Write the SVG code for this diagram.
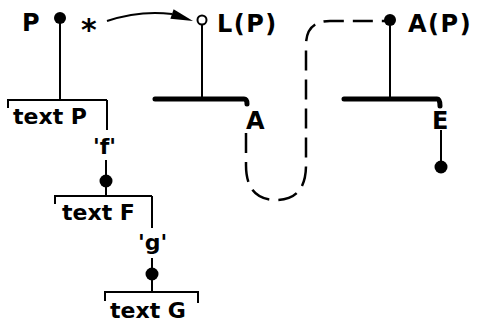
<svg xmlns="http://www.w3.org/2000/svg" width="478" height="325" viewBox="0 0 478 325">
<style>
.t{font-family:"DejaVu Sans",sans-serif;font-weight:bold;fill:#000}
.lbl{font-size:24px;letter-spacing:1.5px}
.txt{font-size:22px}
.thin{stroke:#000;stroke-width:2;fill:none}
.thick{stroke:#000;stroke-width:5;fill:none;stroke-linecap:round}
.dash{stroke:#000;stroke-width:2.5;fill:none;stroke-dasharray:20 9}
.dot{fill:#000}
</style>
<rect width="478" height="325" fill="#fff"/>
<g id="connectors">
<path class="thin" d="M60,18 V100"/>
<path class="thin" d="M107,21 Q140,10 172,14"/>
<polygon points="193,21 170.4,18.7 173.6,9.3" fill="#000"/>
<path class="thin" d="M202,25 V99"/>
<path class="thin" d="M390,20 V99"/>
<path class="thin" d="M107,100 V130"/>
<path class="thin" d="M106,160 V196"/>
<path class="thin" d="M152,196 V228"/>
<path class="thin" d="M152,258 V292"/>
<path class="thin" d="M441,130 V167"/>
<path class="dash" d="M246,133 V165 Q246,200 276,200 Q306,200 306,165 V45 Q306,21 330,21 H386"/>
</g>
<g id="node-P">
<text class="t lbl" x="22" y="31">P</text>
<circle class="dot" cx="60" cy="18" r="6"/>
</g>
<g id="star">
<text class="t" x="81" y="40" font-size="30">*</text>
</g>
<g id="node-LP">
<circle cx="202" cy="20" r="4.5" fill="#fff" stroke="#000" stroke-width="2"/>
<text class="t lbl" x="217" y="32">L(P)</text>
<path class="thick" d="M155,99 H244 Q247,99 247,104"/>
<text class="t lbl" x="246" y="129">A</text>
</g>
<g id="node-AP">
<circle class="dot" cx="390" cy="20" r="6"/>
<text class="t lbl" x="408" y="32">A(P)</text>
<path class="thick" d="M344,99 H437 Q440,99 440,106"/>
<text class="t lbl" x="432" y="129">E</text>
<circle class="dot" cx="441" cy="167" r="6.5"/>
</g>
<g id="text-P">
<path class="thin" d="M8,108 V100 H107"/>
<text class="t txt" x="13" y="124">text P</text>
</g>
<g id="f-node">
<text class="t txt" x="93" y="154">'f'</text>
<circle class="dot" cx="106" cy="181" r="6.5"/>
</g>
<g id="text-F">
<path class="thin" d="M55,204 V196 H152"/>
<text class="t txt" x="62" y="220">text F</text>
</g>
<g id="g-node">
<text class="t txt" x="138" y="250">'g'</text>
<circle class="dot" cx="152" cy="274" r="6.5"/>
</g>
<g id="text-G">
<path class="thin" d="M105,301 V292 H198 V303"/>
<text class="t txt" x="110" y="318">text G</text>
</g>
</svg>
